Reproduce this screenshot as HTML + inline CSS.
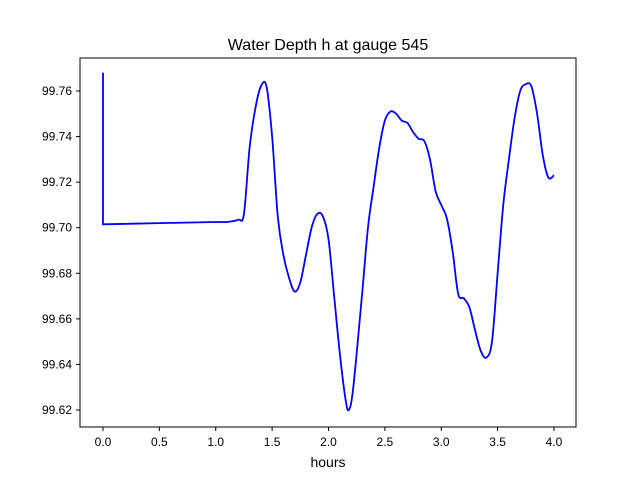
<!DOCTYPE html>
<html><head><meta charset="utf-8"><style>
body{margin:0;background:#fff;}
svg text{font-family:"Liberation Sans","DejaVu Sans",sans-serif;fill:#000;}
</style></head><body>
<svg id="chart" width="640" height="480" xmlns="http://www.w3.org/2000/svg">
<rect width="640" height="480" fill="#fff"/>
<text x="328" y="50" font-size="16" text-anchor="middle">Water Depth h at gauge 545</text>
<g id="plot"></g>
<rect x="80" y="58" width="496" height="369" fill="none" stroke="#000" stroke-width="1"/>
<text x="328" y="467" font-size="14" text-anchor="middle">hours</text>
</svg>
<script>
const times=[0,0,0.5,1.0,1.1,1.2,1.25,1.3,1.35,1.4,1.45,1.5,1.55,1.6,1.65,1.7,1.75,1.8,1.85,1.9,1.95,2.0,2.05,2.1,2.15,2.18,2.22,2.3,2.35,2.4,2.45,2.5,2.55,2.6,2.65,2.7,2.75,2.8,2.85,2.9,2.95,3.0,3.05,3.1,3.15,3.2,3.25,3.3,3.35,3.4,3.45,3.5,3.55,3.6,3.65,3.7,3.75,3.8,3.85,3.9,3.95,4.0];
const depths=[99.768,99.7015,99.702,99.7025,99.7025,99.7035,99.706,99.735,99.752,99.762,99.762,99.74,99.705,99.688,99.678,99.672,99.676,99.688,99.700,99.706,99.705,99.695,99.670,99.645,99.625,99.620,99.630,99.672,99.700,99.718,99.735,99.747,99.751,99.750,99.747,99.746,99.742,99.739,99.738,99.730,99.716,99.710,99.704,99.690,99.671,99.669,99.665,99.655,99.646,99.643,99.650,99.680,99.710,99.730,99.748,99.760,99.763,99.762,99.750,99.732,99.722,99.723];
const xTicks=[0,0.5,1.0,1.5,2.0,2.5,3.0,3.5,4.0];
const xTickLabels=["0.0","0.5","1.0","1.5","2.0","2.5","3.0","3.5","4.0"];
const yTicks=[99.62,99.64,99.66,99.68,99.70,99.72,99.74,99.76];
const yTickLabels=["99.62","99.64","99.66","99.68","99.70","99.72","99.74","99.76"];
const X=t=>103+t*112.75;
const Y=v=>410-(v-99.62)*2278.6;
const NS="http://www.w3.org/2000/svg";
const g=document.getElementById('plot');
function mk(tag,attrs){const e=document.createElementNS(NS,tag);for(const k in attrs)e.setAttribute(k,attrs[k]);g.appendChild(e);return e;}
xTicks.forEach((t,i)=>{
  const l=mk('line',{x1:X(t),x2:X(t),y1:427,y2:431,stroke:'#000'});
  
  
  const tx=mk('text',{x:X(t),y:446,'font-size':12,'text-anchor':'middle'});
  tx.textContent=xTickLabels[i];
  
  
});
yTicks.forEach((v,i)=>{
  const l=mk('line',{x1:76,x2:80,y1:Y(v),y2:Y(v),stroke:'#000'});
  
  
  const tx=mk('text',{x:72,y:Y(v)+4,'font-size':12,'text-anchor':'end'});
  tx.textContent=yTickLabels[i];
  
  
});
const pts=times.map((t,i)=>[X(t),Y(depths[i])]);
let d='M'+pts[0][0]+','+pts[0][1]+' L'+pts[1][0]+','+pts[1][1];
for(let i=1;i<pts.length-1;i++){
  const p0=pts[Math.max(1,i-1)],p1=pts[i],p2=pts[i+1],p3=pts[Math.min(pts.length-1,i+2)];
  const c1=[p1[0]+(p2[0]-p0[0])/6,p1[1]+(p2[1]-p0[1])/6];
  const c2=[p2[0]-(p3[0]-p1[0])/6,p2[1]-(p3[1]-p1[1])/6];
  d+=' C'+c1[0]+','+c1[1]+' '+c2[0]+','+c2[1]+' '+p2[0]+','+p2[1];
}
const line=mk('path',{d:d,fill:'none',stroke:'#0000ff','stroke-width':1.8});


</script>
</body></html>
